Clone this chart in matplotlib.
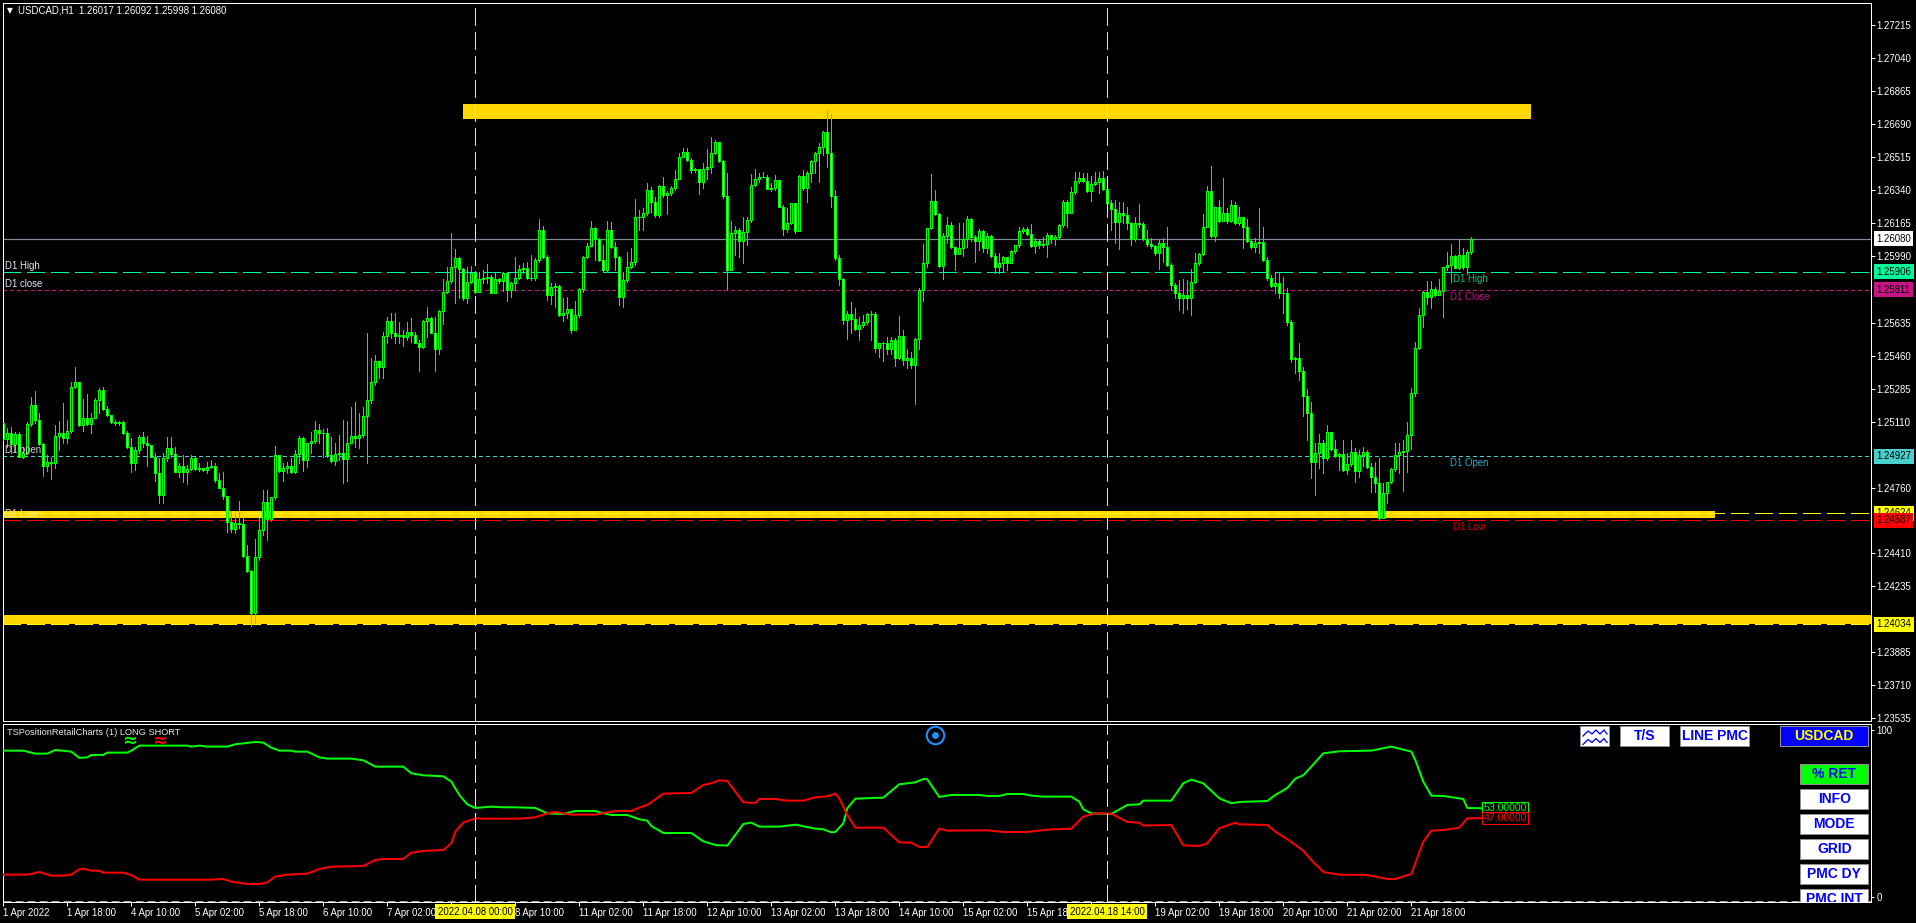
import matplotlib
matplotlib.use('Agg')
import matplotlib.pyplot as plt
import matplotlib.transforms as mtransforms
from matplotlib.lines import Line2D
from matplotlib.patches import Rectangle
import numpy as np

plt.rcParams['font.family'] = ['Liberation Sans', 'DejaVu Sans']
plt.rcParams['font.size'] = 6.9
plt.rcParams['lines.scale_dashes'] = False

W, H = 1916, 923
PT = 0.72  # one pixel in points at dpi 100
FS = 6.9

# hourly candles, prices in 1e-5 units
first_open = 125101
closes = [125016,125048,124991,125043,124924,124942,125096,125197,125119,124991,124876,124894,124892,125034,125048,125021,125060,125292,125321,125092,
125128,125098,125128,125225,125278,125179,125145,125108,125101,125108,125052,124974,124889,124959,125027,124998,124984,124924,124839,124721,
124917,124968,124936,124844,124875,124843,124859,124915,124857,124862,124853,124871,124876,124800,124759,124717,124579,124538,124570,124567,
124397,124317,124096,124391,124535,124682,124591,124708,124931,124848,124862,124875,124844,124938,125021,124906,124998,125006,125064,125048,
125048,124933,124903,124938,124945,124910,124998,125034,125023,125041,125140,125225,125319,125430,125402,125565,125643,125583,125567,125570,
125561,125586,125568,125529,125508,125643,125659,125583,125496,125696,125798,125859,125929,125977,125919,125765,125853,125898,125797,125866,
125871,125880,125795,125866,125857,125898,125809,125845,125871,125919,125924,125871,125871,125968,126128,125983,125783,125823,125830,125676,
125685,125706,125597,125676,125813,125983,126045,126137,126078,125968,125915,126128,126036,125986,125774,125862,125933,125960,126199,126199,
126216,126340,126278,126207,126361,126314,126326,126349,126397,126514,126544,126499,126446,126450,126384,126450,126464,126535,126593,126496,
126308,125915,126110,126128,126071,126119,126181,126365,126397,126411,126411,126347,126352,126391,126252,126135,126163,126269,126124,126414,
126349,126429,126492,126535,126567,126646,126538,126310,125977,125866,125650,125682,125653,125600,125623,125637,125682,125680,125503,125526,
125528,125498,125542,125450,125565,125436,125446,125413,125547,125809,125951,126137,126282,126213,125937,126096,126152,126036,126000,126030,
126078,126184,126092,126071,126121,126030,126096,125990,125929,125951,125983,125951,126014,126046,126121,126135,126106,126043,126068,126048,
126052,126101,126082,126089,126152,126276,126220,126328,126386,126402,126390,126337,126372,126383,126404,126344,126273,126241,126172,126220,
126209,126163,126078,126167,126160,126078,126053,126043,126004,126057,126039,125942,125836,125795,125765,125783,125765,125853,125951,126000,
126145,126337,126098,126248,126177,126216,126177,126260,126163,126199,126145,126071,126039,126057,126066,125968,125871,125830,125848,125795,
125791,125641,125443,125446,125381,125248,125158,124894,124945,124995,124915,125053,124965,124928,124936,124853,124885,124951,124850,124933,
124951,124867,124818,124786,124597,124729,124788,124859,124933,124947,124954,125039,125260,125499,125675,125800,125774,125813,125783,125806,
125929,125942,125990,125928,125995,125929,126011,126080]
highs = [125105,125075,125080,125057,125057,124977,125110,125239,125271,125154,124998,124933,124924,125092,125115,125207,125119,125322,125398,125322,
125230,125257,125154,125234,125287,125292,125193,125147,125119,125112,125115,125062,125021,124977,125039,125057,125034,124988,124942,124917,
124942,125027,125027,124977,124889,124933,124880,124933,124924,124889,124862,124898,124906,124889,124836,124843,124715,124637,124623,124689,
124605,124455,124322,124487,124597,124747,124747,124712,124981,124933,124889,124898,124915,124959,125034,125030,124998,125057,125115,125098,
125069,125075,125030,124995,125039,125119,125115,125190,125216,125154,125190,125579,125446,125464,125420,125584,125667,125685,125689,125641,
125597,125641,125659,125588,125544,125650,125717,125667,125667,125703,125866,125933,126110,126027,125986,125924,125933,125938,125912,125906,
125915,125947,125889,125906,125871,125906,125906,125853,125986,125942,125951,125960,125995,125977,126186,126149,125995,125844,125844,125836,
125765,125774,125614,125751,125818,125990,126057,126175,126142,126083,126048,126177,126172,126066,125990,125906,126013,126030,126291,126234,
126243,126379,126358,126305,126367,126407,126337,126361,126446,126535,126561,126561,126508,126455,126446,126482,126556,126620,126606,126597,
126499,126429,126174,126149,126137,126195,126195,126425,126450,126432,126436,126420,126379,126420,126393,126260,126243,126273,126273,126420,
126446,126443,126499,126544,126588,126653,126765,126744,126340,125995,125871,125698,125745,125712,125664,125676,125689,125698,125692,125529,
125535,125560,125558,125554,125671,125597,125494,125482,125554,125818,126053,126137,126425,126340,126216,126110,126199,126172,126000,126163,
126163,126202,126190,126101,126131,126128,126110,126101,126007,126004,125990,125986,126021,126048,126142,126145,126145,126160,126083,126075,
126092,126110,126101,126101,126160,126287,126287,126358,126436,126436,126429,126429,126414,126436,126436,126441,126384,126287,126287,126278,
126278,126252,126172,126199,126266,126172,126128,126083,126048,126075,126083,126142,125951,125844,125862,125866,125862,125919,126004,126007,
126213,126361,126468,126252,126287,126404,126243,126287,126278,126252,126163,126186,126075,126083,126243,126142,125986,125889,125906,125898,
125880,125818,125650,125455,125526,125402,125282,125216,124995,125043,125013,125092,125057,125013,124945,125013,124942,125013,124968,124959,
124977,124959,124889,124894,124915,124782,124791,124862,124995,124995,125013,125110,125287,125535,125712,125804,125859,125859,125827,125866,
125933,126013,126053,125995,126078,126030,126021,126092]
lows = [125013,124977,124945,124951,124921,124915,124938,125087,125101,124986,124821,124850,124806,124862,124959,124995,124995,125048,125287,125087,
125062,125092,125048,125145,125154,125172,125140,125101,125092,125092,125044,124968,124844,124853,124942,124977,124875,124921,124797,124680,
124680,124903,124924,124843,124818,124790,124779,124853,124853,124850,124846,124839,124866,124791,124756,124701,124526,124526,124517,124544,
124390,124313,124025,124039,124375,124508,124482,124584,124698,124844,124797,124836,124836,124836,124889,124850,124871,124942,124995,124995,
124924,124924,124898,124880,124906,124786,124797,124995,124977,124968,125030,124892,125211,125305,125340,125340,125526,125552,125526,125526,
125514,125544,125535,125526,125381,125499,125561,125579,125381,125467,125629,125791,125848,125738,125765,125756,125738,125844,125791,125809,
125844,125844,125791,125791,125844,125806,125751,125774,125809,125866,125898,125866,125862,125862,125960,125977,125756,125735,125721,125671,
125646,125659,125579,125632,125667,125800,125977,126043,125968,125965,125912,125906,126030,125915,125729,125721,125853,125924,125942,126128,
126128,126207,126225,126199,126199,126305,126213,126314,126340,126397,126514,126496,126429,126436,126319,126349,126397,126432,126531,126491,
126299,125816,125919,125995,125986,125954,126048,126172,126361,126384,126407,126344,126337,126340,126248,126101,126119,126160,126110,126124,
126340,126278,126384,126429,126384,126526,126464,126252,125968,125836,125629,125549,125583,125597,125544,125611,125629,125544,125480,125455,
125434,125469,125469,125407,125441,125411,125397,125397,125206,125494,125752,125933,126131,126207,125933,125866,126057,126030,125915,126025,
125990,126039,126071,125960,126022,126013,126004,125986,125901,125898,125906,125915,125951,126007,126039,126110,126103,126039,126004,126030,
126036,125986,126057,126046,126082,126142,126145,126216,126319,126376,126384,126331,126283,126365,126326,126340,126216,126128,126057,126025,
126163,126135,126048,126071,126145,126075,126043,126030,125995,125922,125960,125937,125809,125765,125703,125687,125710,125676,125848,125942,
125995,126142,126092,126071,126172,126177,126163,126172,126160,126154,126030,126066,126030,126013,126004,125965,125862,125823,125791,125765,
125689,125623,125429,125367,125331,125140,125013,124813,124721,124862,124839,124906,124959,124924,124853,124850,124832,124875,124791,124818,
124875,124862,124738,124738,124588,124597,124676,124782,124850,124836,124744,124844,124965,125248,125494,125611,125735,125712,125777,125791,
125667,125915,125853,125924,125919,125919,125894,125998]

# retail position indicator, read at the bends of the lines
long_bars = [0,5,8,11,13,17,19,21,22,25,26,31,32,34,46,47,49,51,56,58,63,65,67,69,72,73,76,79,81,87,90,93,100,102,105,110,112,114,116,118,120,122,125,128,133,136,140,143,148,150,152,156,
159,161,162,165,172,175,178,181,183,185,187,189,194,198,203,205,207,208,210,211,213,220,224,228,230,231,234,237,244,246,249,251,255,257,260,267,269,270,272,277,281,284,285,292,295,297,300,304,307,309,316,
318,321,323,325,327,330,334,342,347,352,353,355,357,360,365,366,370]
long_pct = [87.6,87.6,85.8,85.8,88,87,83.2,83.6,85,85,86.4,86.4,87.6,90.6,90.6,90,90.6,90,90,91.4,92.8,92.4,89.4,87.6,87.6,87,87,83.6,82.8,82.8,81.8,78,78,74,72.8,72.2,69,61,55.4,53.2,53.6,54,53.6,53.6,53.2,50,49.6,51.4,51.4,50,49,49,
46.4,45.6,42.4,38.2,38.2,33.2,31,30.6,37,43.6,44.4,42,42,43.2,40.8,40.4,38.6,38.8,44,53,58.8,59.4,67.4,68.6,70.6,70.4,59.8,61,61,60.4,60.4,61.6,61.6,60.6,60,60,57,52.4,50,49.6,55,55.4,57.6,57.6,68,70.2,68,59,56,56.8,57.4,
61,65.2,70.8,72.8,78,86,87.2,87.6,90,87,82,69,60.6,60.4,58.6,53.2,53]
short_bars = [0,6,9,12,15,17,19,20,22,24,25,30,32,34,52,55,57,61,64,66,68,71,76,79,82,90,93,95,100,102,105,110,112,113,115,118,120,129,133,136,138,142,148,150,153,157,
159,161,165,172,175,177,179,181,185,188,189,193,196,200,203,206,208,209,211,213,220,224,227,229,231,234,236,246,250,256,261,267,270,273,277,281,284,285,292,295,299,301,304,308,309,316,
318,321,325,327,330,334,341,346,348,352,353,355,357,360,364,366,370]
short_pct = [13.2,13.2,14.8,12.6,12.6,13.2,16.4,16.8,15.6,15.6,14.4,14.4,13,10.2,10.2,10.6,9,7.6,7.6,8.6,12,13.2,13.8,16.6,18,18.4,22,22.6,22.6,26.4,27.4,28,32,39,44.4,47,46.8,46.8,47.6,50,50.8,49.2,49.2,50.2,51.4,51.4,
53.4,55,61.8,62.2,67,68,69.8,69.4,56.6,56.2,58.6,58.6,57.6,57.6,59.6,60.2,61.8,59,49,41.4,41.4,32.6,32.4,29.8,29.8,40.8,39.6,39.8,38.8,38.8,40.2,40.8,48,50,49.8,44.8,44.4,42.6,43,30.8,30.4,32,41,44.4,43.4,43,
39,34.4,27.6,22,14.8,13.2,13,10.6,10.6,13.6,20,33,39.6,40,41.4,47,47.2]

# price levels
last_price = 1.26080
d1_high = 1.25906
d1_close = 1.25811
d1_open = 1.24927
d1_low = 1.24587
level_a = 1.24624
level_b = 1.24034
zone_low = [1.26717, 1.24598, 1.24037]
zone_high = [1.26797, 1.24636, 1.24083]
zone_start = [115, 0, 0]
zone_end = [382, 428, 467]
vline_bars = [118, 276]
vline_labels = ['2022.04.08 00:00', '2022.04.18 14:00']

# ticks that sit under a price tag in the reference are left out
price_ticks = [1.27215,1.27040,1.26865,1.26690,1.26515,1.26340,1.26165,1.25990,1.25635,1.25460,1.25285,
1.25110,1.24760,1.24410,1.24235,1.23885,1.23710,1.23535]
time_bars = list(range(0, 353, 16))
time_labels = ['1 Apr 2022','1 Apr 18:00','4 Apr 10:00','5 Apr 02:00','5 Apr 18:00','6 Apr 10:00','7 Apr 02:00','',
'8 Apr 10:00','11 Apr 02:00','11 Apr 18:00','12 Apr 10:00','13 Apr 02:00','13 Apr 18:00','14 Apr 10:00','15 Apr 02:00',
'15 Apr 18:00','','19 Apr 02:00','19 Apr 18:00','20 Apr 10:00','21 Apr 02:00','21 Apr 18:00']

GOLD = '#FFD700'
LIME = '#00FF00'
DASH = (0, (18 * PT, 6 * PT))
DOT = (0, (3 * PT, 3 * PT))

fig = plt.figure(figsize=(W / 100, H / 100), dpi=100, facecolor='black')
px = mtransforms.Affine2D().scale(1 / W, -1 / H).translate(0, 1) + fig.transFigure

ax = fig.add_axes([2.5 / W, 1 - 721 / H, 1868.5 / W, 718.5 / H], facecolor='black')
ax2 = fig.add_axes([2.5 / W, 1 - 902 / H, 1868.5 / W, 178.3 / H], facecolor='black')

c = np.array(closes) / 1e5
o = np.array([first_open] + closes[:-1]) / 1e5
hi = np.array(highs) / 1e5
lo = np.array(lows) / 1e5
x = np.arange(len(c))

# zones and levels under the candles
for i in range(len(zone_low)):
    ax.add_patch(Rectangle((zone_start[i], zone_low[i]), zone_end[i] - zone_start[i], zone_high[i] - zone_low[i],
                           facecolor=GOLD, edgecolor='none', zorder=1))
ax.axhline(last_price, color='#808A96', lw=PT * 1.2, zorder=2)
ax.axhline(d1_high, color='#00FA9A', lw=PT, ls=DASH, zorder=2, antialiased=False)
ax.axhline(d1_close, color='#C71585', lw=PT, ls=DOT, zorder=2, antialiased=False)
ax.axhline(d1_open, color='#48D1CC', lw=PT, ls=DOT, zorder=2, antialiased=False)
ax.axhline(d1_low, color='#FF0000', lw=PT, ls=DASH, zorder=2, antialiased=False)
ax.axhline(level_a, color='#FFFF00', lw=PT, ls=DASH, zorder=2, antialiased=False)
ax.axhline(level_b, color='#FFFF00', lw=PT, ls=DASH, zorder=2, antialiased=False)

ax.vlines(x, lo, hi, colors=LIME, lw=PT, antialiased=False, zorder=3)
body_col = ['black' if c[i] >= o[i] else 'white' for i in range(len(c))]
ax.bar(x, np.abs(c - o), bottom=np.minimum(c, o), width=0.5, color=body_col, edgecolor=LIME,
       linewidth=PT, antialiased=False, zorder=3.1)

for b in vline_bars:
    ax.axvline(b, color='#FFFF00', lw=PT, ls=DASH, zorder=4, antialiased=False)
    ax2.axvline(b, color='#FFFF00', lw=PT, ls=DASH, zorder=4, antialiased=False)

ax.set_xlim(-0.2, 466.925)
ax.set_ylim(1.23520, 1.27336)
ax.set_xticks([])
ax.yaxis.tick_right()
ax.set_yticks(price_ticks)
ax.set_yticklabels(['%.5f' % p for p in price_ticks])
ax.tick_params(axis='y', colors='white', length=3, width=PT, pad=1, labelsize=FS)

# labels on the levels
def level_text(bar, level, txt, col, dy):
    ax.annotate(txt, xy=(bar, level), xytext=(0, dy * PT), textcoords='offset points',
                color=col, va='center', ha='left', fontsize=FS, zorder=5)

level_text(0.5, d1_high, 'D1 High', '#dfe8f5', 6)
level_text(0.5, d1_close, 'D1 close', '#dfe8f5', 6)
level_text(0.5, d1_open, 'D1 open', '#cfcfcf', 6)
level_text(0.5, level_a, 'D1 Low', '#f5e8a0', -1)
level_text(362.4, d1_high, 'D1 High', '#00C878', -7)
level_text(361.6, d1_close, 'D1 Close', '#C71585', -7)
level_text(361.6, d1_open, 'D1 Open', '#2FA8C8', -7)
level_text(362.4, d1_low, 'D1 Low', '#E00000', -7)

# price tags on the right axis
def tag(price, bg, z=6):
    ax.text(1.0028, price, '%.5f' % price, transform=ax.get_yaxis_transform(), color='black', ha='left', va='center',
            fontsize=FS, clip_on=False, zorder=z, bbox=dict(facecolor=bg, edgecolor='none', pad=1.8))

tag(last_price, 'white')
tag(d1_high, '#00FA9A')
tag(d1_close, '#C71585')
tag(d1_open, '#48D1CC')
tag(level_a, '#FFFF00', 6)
tag(d1_low, '#FF0000', 7)
tag(level_b, '#FFFF00')

# indicator window
ax2.plot(long_bars, long_pct, color=LIME, lw=2 * PT, zorder=3, solid_joinstyle='round')
ax2.plot(short_bars, short_pct, color='#FF0000', lw=2 * PT, zorder=3.1, solid_joinstyle='round')
ax2.axhline(-2.8, color='#a8a8a8', lw=PT, ls=(0, (8 * PT, 4 * PT)), zorder=1)
ax2.set_xlim(-0.2, 466.925)
ax2.set_ylim(-3.2, 103.75)
ax2.yaxis.tick_right()
ax2.set_yticks([100, 0])
ax2.tick_params(axis='y', colors='white', length=2, width=PT, pad=2, labelsize=FS)
ax2.set_xticks(time_bars)
ax2.set_xticklabels(time_labels, ha='left')
ax2.tick_params(axis='x', colors='white', length=3, width=PT, pad=1.5, labelsize=FS)

for a in (ax, ax2):
    for s in a.spines.values():
        s.set_color('white')
        s.set_linewidth(PT)

ax2.text(370, 53, '53.00000', color=LIME, fontsize=7.6, ha='left', va='center', zorder=5,
         bbox=dict(facecolor='black', edgecolor=LIME, lw=PT, pad=0.8))
ax2.text(370, 47, '47.00000', color='#FF0000', fontsize=7.6, ha='left', va='center', zorder=5,
         bbox=dict(facecolor='black', edgecolor='#FF0000', lw=PT, pad=0.8))

for b, lab in zip(vline_bars, vline_labels):
    ax2.text(b, -0.0533, lab, transform=ax2.get_xaxis_transform(), color='black', ha='center', va='center',
             fontsize=FS, clip_on=False, zorder=8, bbox=dict(facecolor='#FFFF00', edgecolor='none', pad=1.8))

# header and indicator caption
fig.text(18.4 / W, 1 - 10.7 / H, 'USDCAD,H1  1.26017 1.26092 1.25998 1.26080', color='white', fontsize=FS, va='center')
fig.text(10 / W, 1 - 10.7 / H, '▼', color='white', fontsize=5.5, ha='center', va='center', family='DejaVu Sans')
fig.text(7.3 / W, 1 - 732.5 / H, 'TSPositionRetailCharts (1) LONG SHORT', color='#e8e8e8', fontsize=6.7, va='center')
fig.text(130 / W, 1 - 740.5 / H, '≈', color=LIME, fontsize=13, fontweight='bold', ha='center', va='center', family='DejaVu Sans')
fig.text(160 / W, 1 - 740.5 / H, '≈', color='#FF0000', fontsize=13, fontweight='bold', ha='center', va='center', family='DejaVu Sans')

# chart event marker
fig.add_artist(Line2D([934.7], [735], transform=px, marker='o', ms=14 * PT * 1.25, mfc='none', mec='#1E90FF', mew=1.5))
fig.add_artist(Line2D([934.7], [735], transform=px, marker='o', ms=5.5 * PT, mfc='#1E90FF', mec='#1E90FF'))

# buttons of the panel
def button(label, x0, y0, x1, y1, bg='white', fg='#0000FF'):
    ax2.add_patch(Rectangle((x0, y0), x1 - x0, y1 - y0, transform=px, facecolor=bg, edgecolor='#909090', lw=PT, zorder=6))
    if label:
        ax2.text((x0 + x1) / 2, (y0 + y1) / 2 + 0.3, label, transform=px, color=fg, fontsize=10, fontweight='bold',
                 family='Liberation Sans', ha='center', va='center', zorder=7, clip_on=True)

button('', 1580.5, 726.3, 1609.5, 745.7)
for yy in (733, 741.5):
    ax2.plot([1583, 1588, 1592, 1596, 1600, 1604, 1607], [yy + 3, yy - 2, yy + 1, yy - 3, yy + 1, yy - 3, yy + 1],
             transform=px, color='#0000FF', lw=PT * 1.3, zorder=7)
button('T/S', 1620.5, 726.3, 1669.5, 745.7)
button('LINE PMC', 1680.5, 726.3, 1749.5, 745.7)
button('USDCAD', 1780.5, 726.3, 1868, 745.7, bg='#0000FF', fg='#FFFF00')
button('% RET', 1800.5, 764.3, 1868, 783.7, bg=LIME)
button('INFO', 1800.5, 789.3, 1868, 808.7)
button('MODE', 1800.5, 814.3, 1868, 833.7)
button('GRID', 1800.5, 839.3, 1868, 858.7)
button('PMC DY', 1800.5, 864.3, 1868, 883.7)
button('PMC INT', 1800.5, 889.3, 1868, 908.7)

fig.savefig('out.png', dpi=100, facecolor='black')
